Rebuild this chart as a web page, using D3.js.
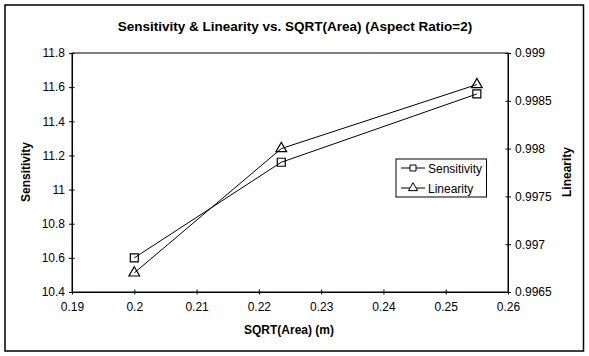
<!DOCTYPE html>
<html><head><meta charset="utf-8">
<script src="https://cdn.jsdelivr.net/npm/d3@7"></script>
<style>body{margin:0;background:#fff}svg{display:block}text{font-family:Arial,"Liberation Sans",sans-serif}</style>
</head><body><svg id="c" width="589" height="356"></svg>
<script>
const xValues = [0.2, 0.2236, 0.255];
const sensitivity = [10.6, 11.16, 11.56];
const linearity = [0.9967, 0.998, 0.99867];
const xTicks = [0.19,0.2,0.21,0.22,0.23,0.24,0.25,0.26];
const yLeftTicks = [10.4,10.6,10.8,11,11.2,11.4,11.6,11.8];
const yRightTicks = [0.9965,0.997,0.9975,0.998,0.9985,0.999];
const seriesNames = ["Sensitivity","Linearity"];

const svg = d3.select("#c");
const L=72,R=508,T=53,B=292;
svg.append("rect").attr("x",5).attr("y",5).attr("width",578.5).attr("height",346).attr("fill","#fff").attr("stroke","#000").attr("stroke-width",1.5);
const x = d3.scaleLinear().domain([0.19,0.26]).range([L,R]);
const yL = d3.scaleLinear().domain([10.4,11.8]).range([B,T]);
const yR = d3.scaleLinear().domain([0.9965,0.999]).range([B,T]);

svg.append("rect").attr("x",L).attr("y",T).attr("width",R-L).attr("height",B-T).attr("fill","none").attr("stroke","#000").attr("stroke-width",1);

const fmt = d=>String(d);
const ax = svg.append("g").attr("transform",`translate(0,${B})`).call(d3.axisBottom(x).tickValues(xTicks).tickFormat(fmt).tickSize(5).tickSizeOuter(0));
const al = svg.append("g").attr("transform",`translate(${L},0)`).call(d3.axisLeft(yL).tickValues(yLeftTicks).tickFormat(fmt).tickSize(5).tickSizeOuter(0));
const ar = svg.append("g").attr("transform",`translate(${R},0)`).call(d3.axisRight(yR).tickValues(yRightTicks).tickFormat(fmt).tickSize(5).tickSizeOuter(0));
[ax,al,ar].forEach(g=>{
  g.select(".domain").attr("stroke","#000");
  g.selectAll(".tick line").attr("stroke","#000");
  g.selectAll(".tick text").attr("font-size",12).attr("fill","#000").attr("font-family","Arial, 'Liberation Sans', sans-serif");
});
ax.selectAll(".tick line").attr("y1",-2.5).attr("y2",2.5);
ax.selectAll(".tick text").attr("y",10);
al.selectAll(".tick line").attr("x1",-3).attr("x2",2.5);
al.selectAll(".tick text").attr("x",-7);
ar.selectAll(".tick line").attr("x1",-2.5).attr("x2",3);
ar.selectAll(".tick text").attr("x",7);

svg.append("text").attr("x",295).attr("y",31).attr("text-anchor","middle").attr("font-size",13.5).attr("font-weight","bold").text("Sensitivity & Linearity vs. SQRT(Area) (Aspect Ratio=2)");
svg.append("text").attr("x",289).attr("y",334).attr("text-anchor","middle").attr("font-size",12).attr("font-weight","bold").text("SQRT(Area) (m)");
svg.append("text").attr("transform","translate(30,172) rotate(-90)").attr("text-anchor","middle").attr("font-size",12).attr("font-weight","bold").text("Sensitivity");
svg.append("text").attr("transform","translate(571,172) rotate(-90)").attr("text-anchor","middle").attr("font-size",12).attr("font-weight","bold").text("Linearity");

const sData = xValues.map((d,i)=>[x(d),yL(sensitivity[i])]);
const lData = xValues.map((d,i)=>[x(d),yR(linearity[i])]);
const line = d3.line();
svg.append("path").attr("d",line(sData)).attr("fill","none").attr("stroke","#000").attr("stroke-width",1);
svg.append("path").attr("d",line(lData)).attr("fill","none").attr("stroke","#000").attr("stroke-width",1);
const sq = d3.symbol().type(d3.symbolSquare).size(64);
const tri = d3.symbol().type(d3.symbolTriangle).size(50);
svg.selectAll(".s").data(sData).join("path").attr("transform",d=>`translate(${d[0]},${d[1]})`).attr("d",sq).attr("fill","none").attr("stroke","#000").attr("stroke-width",1.2);
svg.selectAll(".t").data(lData).join("path").attr("transform",d=>`translate(${d[0]},${d[1]})`).attr("d",tri).attr("fill","none").attr("stroke","#000").attr("stroke-width",1.2);

// legend
const lg = svg.append("g");
lg.append("rect").attr("x",396).attr("y",159).attr("width",90.5).attr("height",38).attr("fill","#fff").attr("stroke","#000").attr("stroke-width",1);
seriesNames.forEach((n,i)=>{
  const yy = 168+i*20;
  lg.append("line").attr("x1",401).attr("x2",425).attr("y1",yy).attr("y2",yy).attr("stroke","#000");
  lg.append("path").attr("transform",`translate(413,${yy})`).attr("d",i===0?d3.symbol().type(d3.symbolSquare).size(36)():d3.symbol().type(d3.symbolTriangle).size(36)()).attr("fill","#fff").attr("stroke","#000");
  lg.append("text").attr("x",428).attr("y",yy+4.5).attr("font-size",12).text(n);
});
</script></body></html>
